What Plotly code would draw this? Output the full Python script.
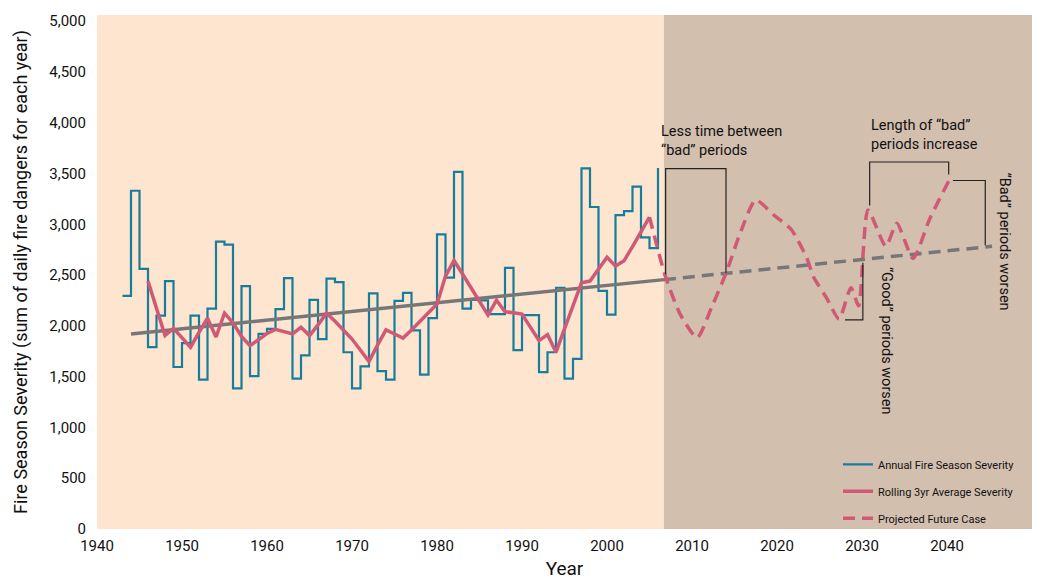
import plotly.graph_objects as go

# ---------------- data ----------------
annual_years = list(range(1943, 2007))
annual_severity = [
    2295, 3330, 2560, 1790, 2100, 2440, 1595, 1830, 2100, 1470,   # 1943-1952
    2170, 2830, 2800, 1385, 2390, 1505, 1920, 1970, 2165, 2470,   # 1953-1962
    1480, 1710, 2255, 1870, 2465, 2430, 1740, 1385, 1600, 2320,   # 1963-1972
    1555, 1470, 2245, 2325, 1955, 1520, 2075, 2900, 2475, 3515,   # 1973-1982
    2170, 2255, 2250, 2115, 2115, 2570, 1760, 2105, 2105, 1545,   # 1983-1992
    1740, 2375, 1480, 1675, 3550, 3170, 2345, 2110, 3090, 3130,   # 1993-2002
    3370, 2870, 2765, 3555,                                       # 2003-2006
]

rolling_years = list(range(1946, 2006))
rolling_avg = [
    2440, 2170, 1905, 1975, 1880, 1790, 1935, 2075, 1890, 2125,   # 1946-1955
    2030, 1895, 1805, 1865, 1925, 1965, 1945, 1921, 1986, 1904,   # 1956-1965
    2010, 2125, 2045, 1960, 1870, 1760, 1650, 1810, 1960, 1920,   # 1966-1975
    1880, 1960, 2045, 2130, 2214, 2490, 2643, 2510, 2375, 2240,   # 1976-1985
    2106, 2253, 2139, 2128, 2116, 1985, 1855, 1914, 1741, 1970,   # 1986-1995
    2200, 2425, 2441, 2560, 2676, 2588, 2640, 2780, 2925, 3070,   # 1996-2005
]

proj_years = [2005, 2006.8, 2008.6, 2010.6, 2012.3, 2014.1, 2015.6, 2017.5,
              2019.6, 2021.7, 2023.5, 2024.3, 2025.8, 2027.3, 2028.7, 2029.6,
              2030.7, 2032.8, 2034.1, 2036.0, 2038.0, 2040.2]
proj_values = [3070, 2507, 2116, 1882, 2181, 2539, 2897, 3239,
               3093, 2946, 2669, 2480, 2280, 2067, 2376, 2197,
               3141, 2783, 3011, 2663, 3060, 3425]

trend_years = [1944, 2006.7]
trend_values = [1920, 2455]
trend_proj_years = [2006.7, 2045.3]
trend_proj_values = [2455, 2783]

projection_start = 2006.7
x_ticks = [1940, 1950, 1960, 1970, 1980, 1990, 2000, 2010, 2020, 2030, 2040, 2050]
y_ticks = [0, 500, 1000, 1500, 2000, 2500, 3000, 3500, 4000, 4500, 5000]

# ---------------- style ----------------
FONT = "Roboto, Lato, sans-serif"
TEAL = "#187D9B"
PINK = "#D05A76"
GRAY = "#777777"
PEACH = "#FDE5D0"
TAN = "#D3BFAE"

fig = go.Figure()

fig.add_trace(go.Scatter(
    x=annual_years, y=annual_severity, mode="lines", line_shape="hv",
    line=dict(color=TEAL, width=2.2), name="Annual Fire Season Severity",
    legendgroup="a"))

fig.add_trace(go.Scatter(
    x=trend_years, y=trend_values, mode="lines",
    line=dict(color=GRAY, width=3.5), showlegend=False, hoverinfo="skip"))
fig.add_trace(go.Scatter(
    x=trend_proj_years, y=trend_proj_values, mode="lines",
    line=dict(color=GRAY, width=3.5, dash="12px,7px"), showlegend=False,
    hoverinfo="skip"))

fig.add_trace(go.Scatter(
    x=rolling_years, y=rolling_avg, mode="lines",
    line=dict(color=PINK, width=3.5), name="Rolling 3yr Average Severity",
    legendgroup="b"))
fig.add_trace(go.Scatter(
    x=proj_years, y=proj_values, mode="lines", line_shape="spline",
    line=dict(color=PINK, width=3.5, dash="12px,7px", smoothing=0.6),
    name="Projected Future Case", legendgroup="c"))

shapes = [
    dict(type="rect", xref="x", yref="paper", x0=1940, x1=projection_start,
         y0=0, y1=1, fillcolor=PEACH, line_width=0, layer="below"),
    dict(type="rect", xref="x", yref="paper", x0=projection_start, x1=2050,
         y0=0, y1=1, fillcolor=TAN, line_width=0, layer="below"),
]

def bracket(pts):
    path = "M " + " L ".join(f"{x},{y}" for x, y in pts)
    return dict(type="path", xref="x", yref="y", path=path,
                line=dict(color="#222222", width=1.2))

shapes += [
    bracket([(2006.9, 2507), (2006.9, 3548), (2014.0, 3548), (2014.0, 2522)]),
    bracket([(2030.9, 3184), (2030.9, 3613), (2040.2, 3613), (2040.2, 3489)]),
    bracket([(2040.7, 3431), (2044.5, 3431), (2044.5, 2793)]),
    bracket([(2028.0, 2058), (2030.1, 2058), (2030.1, 2620)]),
]

ann_font = dict(family=FONT, size=14.5, color="#111111")
annotations = [
    dict(x=2006.1, y=3823, xref="x", yref="y", text="Less time between<br>“bad” periods",
         showarrow=False, xanchor="left", yanchor="middle", align="left", font=ann_font),
    dict(x=2030.8, y=3882, xref="x", yref="y", text="Length of “bad”<br>periods increase",
         showarrow=False, xanchor="left", yanchor="middle", align="left", font=ann_font),
    dict(x=2032.9, y=1855, xref="x", yref="y", text="“Good” periods worsen",
         showarrow=False, textangle=90, font=ann_font),
    dict(x=2046.8, y=2832, xref="x", yref="y", text="“Bad” periods worsen",
         showarrow=False, textangle=90, font=ann_font),
]

fig.update_layout(
    width=1040, height=572,
    margin=dict(l=89, r=16, t=4, b=50),
    paper_bgcolor="white", plot_bgcolor=PEACH,
    font=dict(family=FONT, size=14, color="#111111"),
    shapes=shapes, annotations=annotations,
    showlegend=True,
    legend=dict(x=0.7925, y=0.154, xanchor="left", yanchor="top",
                bgcolor="rgba(0,0,0,0)", font=dict(family=FONT, size=11),
                itemwidth=30, tracegroupgap=8),
    xaxis=dict(range=[1940, 2050], tickvals=x_ticks, showgrid=False,
               zeroline=False, showline=False, ticks="", ticklabelstandoff=6,
               title=dict(text="Year", font=dict(size=19), standoff=8),
               tickfont=dict(size=15)),
    yaxis=dict(range=[0, 5060], tickvals=y_ticks, tickformat=",d", showgrid=False,
               zeroline=False, showline=False, ticks="", ticklabelstandoff=10,
               title=dict(text="Fire Season Severity (sum of daily fire dangers for each year)",
                          font=dict(size=18), standoff=17),
               tickfont=dict(size=15)),
)

fig.write_html("out.html")
